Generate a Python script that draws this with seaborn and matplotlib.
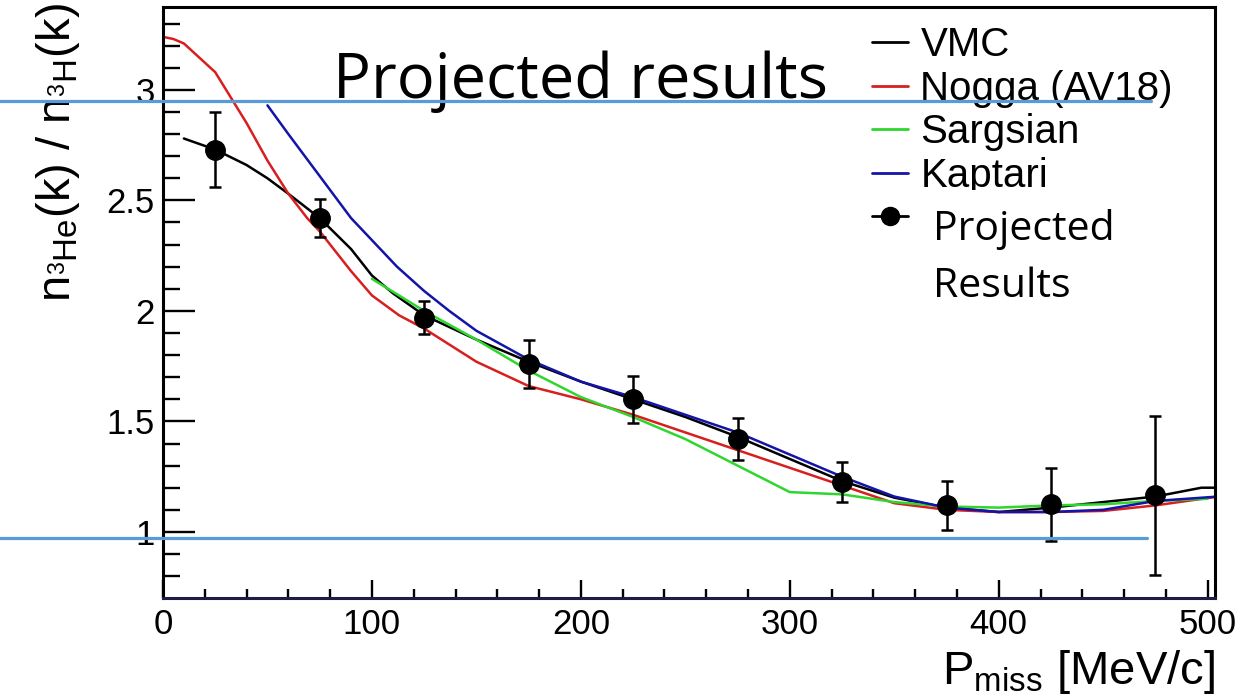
import matplotlib
matplotlib.use("Agg")
import matplotlib.pyplot as plt
import numpy as np
import pandas as pd
import seaborn as sns
from matplotlib.lines import Line2D
from matplotlib.patches import Rectangle
from matplotlib.ticker import MultipleLocator, FixedLocator

# ---- theory curves: n(3He)/n(3H) momentum-distribution ratio ----
vmc_x = [10, 25, 40, 50, 60, 75, 90, 100, 110, 125, 150, 175, 200, 225, 250,
         275, 300, 325, 350, 375, 400, 425, 450, 475, 497, 505]
vmc_y = [2.78, 2.73, 2.66, 2.60, 2.53, 2.42, 2.28, 2.16, 2.08, 1.98, 1.87,
         1.77, 1.68, 1.60, 1.52, 1.43, 1.33, 1.23, 1.155, 1.11, 1.09, 1.11,
         1.135, 1.16, 1.20, 1.20]

nogga_x = [0, 5, 10, 25, 40, 50, 60, 69, 75, 90, 100, 113, 125, 150, 175, 200,
           225, 250, 275, 300, 325, 350, 375, 400, 425, 450, 475, 505]
nogga_y = [3.24, 3.23, 3.21, 3.08, 2.85, 2.68, 2.53, 2.42, 2.36, 2.18, 2.07,
           1.98, 1.92, 1.77, 1.66, 1.60, 1.53, 1.45, 1.37, 1.29, 1.21, 1.13,
           1.10, 1.09, 1.09, 1.095, 1.12, 1.16]

sargsian_x = [100, 125, 150, 175, 200, 225, 250, 275, 300, 325, 350, 375, 400,
              425, 450, 475, 500]
sargsian_y = [2.145, 2.00, 1.87, 1.73, 1.61, 1.52, 1.42, 1.30, 1.18, 1.17,
              1.135, 1.115, 1.11, 1.12, 1.125, 1.14, 1.15]

kaptari_x = [50, 60, 75, 90, 100, 112, 125, 137, 150, 175, 200, 225, 250, 275,
             300, 325, 350, 375, 400, 425, 450, 475, 505]
kaptari_y = [2.93, 2.80, 2.61, 2.42, 2.32, 2.20, 2.09, 2.00, 1.91, 1.78, 1.68,
             1.61, 1.53, 1.45, 1.35, 1.25, 1.16, 1.11, 1.09, 1.09, 1.10, 1.14,
             1.16]

model_names = ["VMC", "Nogga (AV18)", "Sargsian", "Kaptari"]
model_colors = ["#000000", "#d81f1f", "#2ed62e", "#1414a8"]

# ---- projected measurement ----
pmiss = [25, 75, 125, 175, 225, 275, 325, 375, 425, 475]
ratio = [2.73, 2.42, 1.97, 1.76, 1.60, 1.42, 1.225, 1.12, 1.125, 1.165]
ratio_err = [0.17, 0.085, 0.075, 0.11, 0.105, 0.095, 0.09, 0.11, 0.165, 0.36]

x_ticks = [0, 100, 200, 300, 400, 500]
y_ticks = [1, 1.5, 2, 2.5, 3]
y_tick_labels = ["1", "1.5", "2", "2.5", "3"]

title_text = "Projected results"
points_label = ["Projected", "Results"]

# long-form table for seaborn
frames = []
for name, xs, ys in zip(model_names,
                        [vmc_x, nogga_x, sargsian_x, kaptari_x],
                        [vmc_y, nogga_y, sargsian_y, kaptari_y]):
    frames.append(pd.DataFrame({"pmiss": xs, "ratio": ys, "model": name}))
curves = pd.concat(frames, ignore_index=True)

sns.set_style("white")
plt.rcParams["font.family"] = ["Liberation Sans", "DejaVu Sans"]
plt.rcParams["text.color"] = "black"
plt.rcParams["axes.labelcolor"] = "black"
plt.rcParams["xtick.color"] = "black"
plt.rcParams["ytick.color"] = "black"
plt.rcParams["mathtext.fontset"] = "custom"
plt.rcParams["mathtext.rm"] = "Liberation Sans"
plt.rcParams["mathtext.it"] = "Liberation Sans:italic"
plt.rcParams["mathtext.bf"] = "Liberation Sans:bold"

W, H = 1250, 697
fig = plt.figure(figsize=(W / 100, H / 100), dpi=100)
ax = fig.add_axes([163 / W, 1 - 598 / H, (1215 - 163) / W, (598 - 7) / H])

sns.lineplot(data=curves, x="pmiss", y="ratio", hue="model",
             hue_order=model_names, palette=dict(zip(model_names, model_colors)),
             estimator=None, sort=False, linewidth=1.8, ax=ax, legend=True)

ax.errorbar(pmiss, ratio, yerr=ratio_err, fmt="o", color="black", ms=14,
            elinewidth=1.8, capsize=4, capthick=1.8, zorder=5)

ax.set_xlim(0, 503.5)
ax.set_ylim(0.701, 3.375)
ax.xaxis.set_major_locator(FixedLocator(x_ticks))
ax.xaxis.set_minor_locator(MultipleLocator(20))
ax.yaxis.set_major_locator(FixedLocator(y_ticks))
ax.set_yticklabels(y_tick_labels)
ax.yaxis.set_minor_locator(MultipleLocator(0.1))

ax.tick_params(axis="both", which="both", direction="in", labelsize=25,
               width=1.7, color="black", labelcolor="black",
               left=True, bottom=True)
ax.tick_params(axis="y", which="major", length=23, pad=6)
ax.tick_params(axis="y", which="minor", length=12)
ax.tick_params(axis="x", which="major", length=13, pad=7)
ax.tick_params(axis="x", which="minor", length=6.5)

for side in ["left", "right", "top", "bottom"]:
    ax.spines[side].set_visible(True)
    ax.spines[side].set_linewidth(2.2)
    ax.spines[side].set_color("black")
ax.spines["bottom"].set_color("#1e1e44")

ax.set_ylabel("")
ax.set_xlabel(r"P$_{\mathregular{miss}}$ [MeV/c]", fontsize=34, loc="right",
              labelpad=5)
fig.text(58 / W, 1 - 153 / H,
         r"n$_{^{3}\mathregular{He}}$(k) / n$_{^{3}\mathregular{H}}$(k)",
         rotation=90, ha="center", va="center", fontsize=34)

# legend: model lines plus the projected points
handles, labels = ax.get_legend_handles_labels()
point_handle = Line2D([], [], color="black", lw=2, marker="o", ms=13)
leg = ax.legend(handles[:4] + [point_handle], labels[:4] + [" "],
                loc="upper left", bbox_to_anchor=(872 / W, 1 - 26 / H),
                bbox_transform=fig.transFigure, frameon=False, fontsize=29,
                handlelength=0.9, handletextpad=0.3, labelspacing=0.14,
                borderpad=0, borderaxespad=0)
for line in leg.get_lines():
    line.set_linewidth(2.0)

# text box for the projected points, covering the bottom of the legend text
fig.add_artist(Rectangle((915 / W, 1 - 305 / H), 225 / W, 115 / H,
                         transform=fig.transFigure, facecolor="white",
                         edgecolor="none", zorder=3))
fig.text(933 / W, 1 - 240 / H, points_label[0], family="Open Sans",
         fontsize=29.5, va="baseline", zorder=4)
fig.text(933 / W, 1 - 297 / H, points_label[1], family="Open Sans",
         fontsize=29.5, va="baseline", zorder=4)

# slide title and guide lines
fig.text(333 / W, 1 - 98 / H, title_text, family="Open Sans", fontsize=45.5,
         va="baseline", zorder=4)
guide_color = "#5b9bd5"
fig.add_artist(Line2D([0, 1151 / W], [1 - 100.5 / H] * 2,
                      transform=fig.transFigure, color=guide_color, lw=2.3,
                      zorder=6))
fig.add_artist(Line2D([0, 1147 / W], [1 - 538 / H] * 2,
                      transform=fig.transFigure, color=guide_color, lw=2.3,
                      zorder=6))

fig.savefig("out.png", dpi=100, facecolor="white")
